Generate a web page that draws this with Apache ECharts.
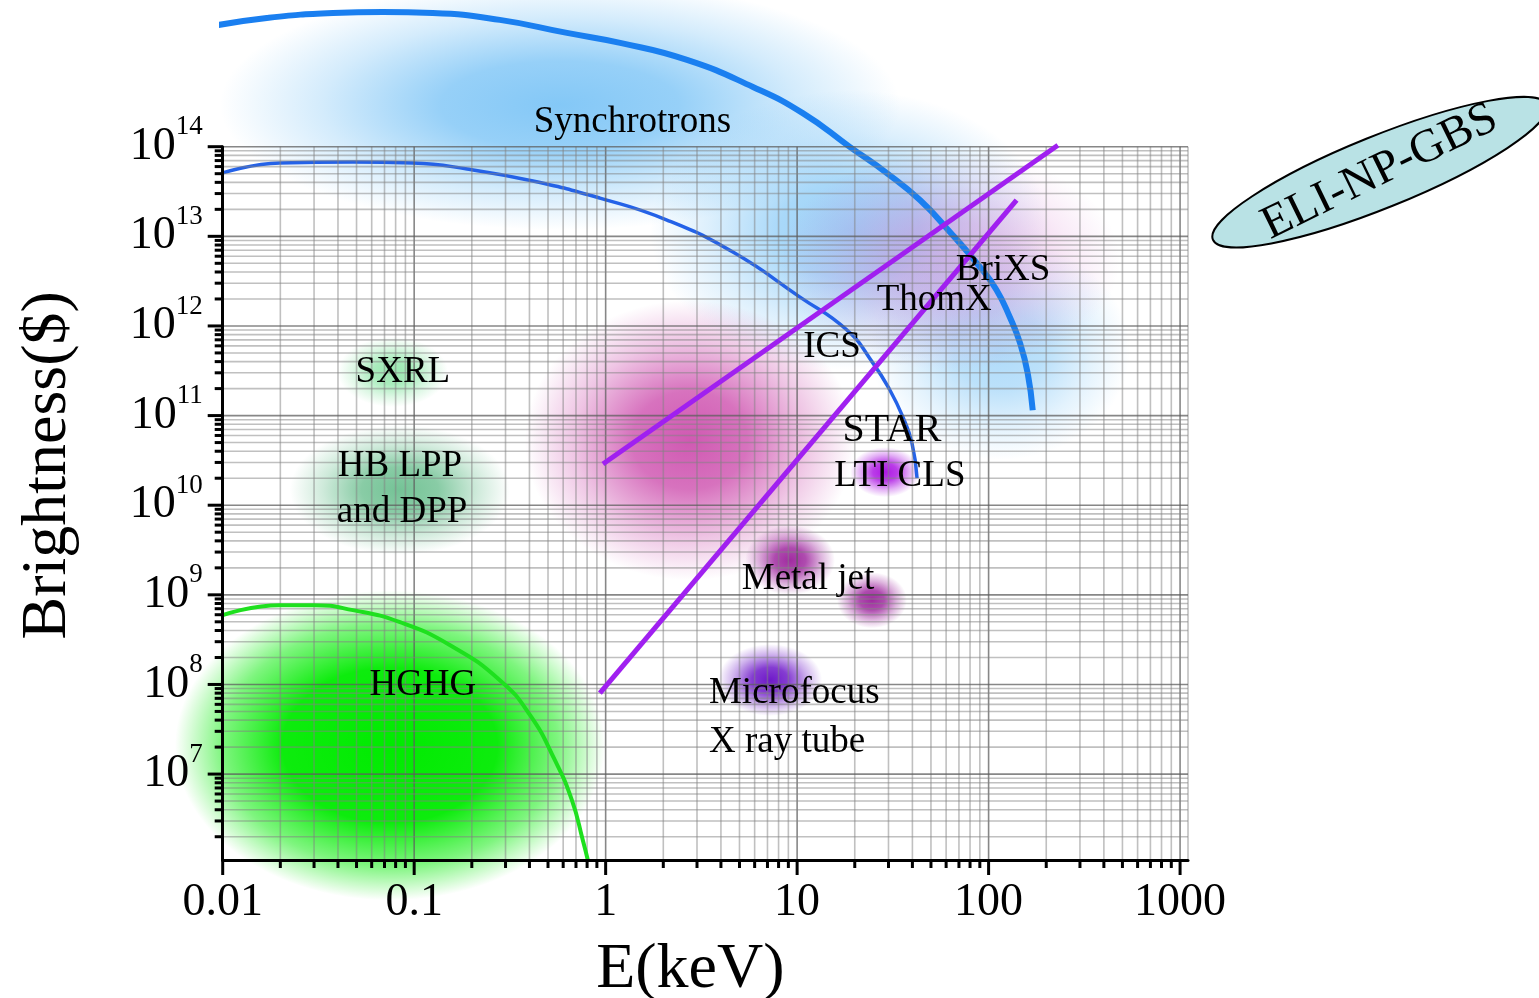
<!DOCTYPE html>
<html>
<head>
<meta charset="utf-8">
<script src="https://cdn.jsdelivr.net/npm/echarts@6/dist/echarts.min.js"></script>
<style>
  html, body { margin: 0; padding: 0; background: #fff; }
  #chart { width: 1539px; height: 998px; }
</style>
</head>
<body>
<div id="chart"></div>
<script>
const SERIF = "'Liberation Serif','Times New Roman','DejaVu Serif',serif";

// Axis ranges (log scales)
const X_MIN = 0.01, X_MAX = 1100, Y_MIN = 1.1e6, Y_MAX = 1e14;

// Tick labels
const xTickValues = [0.01, 0.1, 1, 10, 100, 1000];
const xTickLabels = ['0.01', '0.1', '1', '10', '100', '1000'];
const yTickExponents = [7, 8, 9, 10, 11, 12, 13, 14];

// Synchrotrons, outer envelope (keV, brightness)
const syncOuterE = [0.0089, 0.017, 0.0377, 0.0687, 0.125, 0.28, 0.628, 1.19, 2.66, 5.88, 10.7, 18.9, 29.4, 43.8, 62.8, 90.2, 110, 129, 146, 160, 170];
const syncOuterB = [2.22e15, 2.73e15, 3.10e15, 3.18e15, 3.10e15, 2.60e15, 1.86e15, 1.44e15, 9.3e14, 4.64e14, 2.37e14, 9.9e13, 5.08e13, 2.54e13, 1.12e13, 4.54e12, 2.52e12, 1.26e12, 6.44e11, 2.98e11, 1.15e11];

// Synchrotrons, inner curve
const syncInnerE = [0.01, 0.0199, 0.0479, 0.0987, 0.189, 0.417, 0.933, 2.09, 4.62, 10.35, 18.2, 24.9, 30.5, 35.7, 39.8, 42.3];
const syncInnerB = [5.1e13, 6.58e13, 6.75e13, 6.58e13, 5.64e13, 4.14e13, 2.67e13, 1.52e13, 6.68e12, 2.10e12, 9.0e11, 3.85e11, 1.93e11, 9.6e10, 4.93e10, 2.0e10];

// HGHG envelope
const hghgE = [0.01, 0.0199, 0.0297, 0.0479, 0.0843, 0.154, 0.281, 0.403, 0.543, 0.667, 0.760, 0.807];
const hghgB = [5.93e8, 7.67e8, 7.67e8, 6.75e8, 4.95e8, 2.74e8, 1.11e8, 4.54e7, 1.43e7, 5.1e6, 1.83e6, 1.1e6];

// ICS bounding lines
const icsUpperE = [0.968, 230];
const icsUpperB = [2.88e10, 1.04e14];
const icsLowerE = [0.933, 140];
const icsLowerB = [8.0e7, 2.54e13];

// Source regions (centre energy, centre brightness)
const regionNames = ['sync-a', 'sync-b', 'sync-c', 'ics-high', 'ics', 'sxrl', 'hblpp', 'hghg', 'jet-a', 'jet-b', 'star', 'microfocus'];
const regionE = [0.577, 18.9, 115, 62.8, 2.75, 0.0774, 0.0843, 0.0748, 9.18, 24.6, 28.8, 7.23];
const regionB = [2.92e14, 1.17e13, 5.4e11, 5.4e12, 5.3e10, 3.06e11, 1.48e10, 2.09e7, 2.44e9, 8.7e8, 2.34e10, 1.12e8];

// Text annotations
const labelTexts = ['Synchrotrons', 'SXRL', 'HB LPP', 'and DPP', 'HGHG', 'ICS', 'ThomX', 'BriXS', 'STAR', 'LTI CLS', 'Metal jet', 'Microfocus', 'X ray tube'];
const labelE = [1.38, 0.0873, 0.0843, 0.0865, 0.111, 15.2, 52.0, 119, 31.3, 34.4, 11.4, 9.66, 8.87];
const labelB = [1.99e14, 3.2e11, 2.88e10, 8.8e9, 1.03e8, 6.1e11, 2.05e12, 4.42e12, 7.2e10, 2.22e10, 1.55e9, 8.5e7, 2.39e7];

// ELI-NP-GBS badge
const eliE = [11040];
const eliB = [5.2e13];

// ---- appearance of the soft regions (px radii, rgb, peak alpha, gradient profile)
const regionLook = {
  'sync-a':     { rx: 340, ry: 125, rgb: '110,190,245', a: 0.85 },
  'sync-b':     { rx: 200, ry: 140, rgb: '110,190,245', a: 0.7 },
  'sync-c':     { rx: 130, ry: 110, rgb: '110,190,245', a: 0.55 },
  'ics-high':   { rx: 170, ry: 110, rgb: '215,120,205', a: 0.45 },
  'ics':        { rx: 165, ry: 140, rgb: '200,60,165',  a: 0.85 },
  'sxrl':       { rx: 55,  ry: 35,  rgb: '120,225,150', a: 0.75 },
  'hblpp':      { rx: 110, ry: 65,  rgb: '70,175,115',  a: 0.75 },
  'hghg':       { rx: 215, ry: 155, rgb: '0,235,0',     a: 1.0, flat: true },
  'jet-a':      { rx: 45,  ry: 35,  rgb: '150,20,150',  a: 0.9 },
  'jet-b':      { rx: 35,  ry: 28,  rgb: '150,20,150',  a: 0.9 },
  'star':       { rx: 35,  ry: 25,  rgb: '165,0,225',   a: 0.9 },
  'microfocus': { rx: 52,  ry: 36,  rgb: '95,0,195',    a: 0.9 }
};
const labelFontSize = { 'STAR': 40 };
const LABEL_DY = 2;

const zip = (a, b) => a.map((v, i) => [v, b[i]]);

// grid lines and ticks of both log axes
const gridLines = [];
const ticks = [];
for (let d = -2; d <= 3; d++) {
  const major = Math.pow(10, d);
  gridLines.push({ dir: 'v', v: major, major: true });
  ticks.push({ axis: 'x', v: major, major: true });
  if (d < 3) {
    for (let k = 2; k <= 9; k++) {
      gridLines.push({ dir: 'v', v: k * major, major: false });
      ticks.push({ axis: 'x', v: k * major, major: false });
    }
  }
}
gridLines.push({ dir: 'v', v: X_MAX, major: false });
for (let d = 6; d <= 14; d++) {
  const major = Math.pow(10, d);
  if (major >= Y_MIN) {
    gridLines.push({ dir: 'h', v: major, major: true });
    ticks.push({ axis: 'y', v: major, major: true });
  }
  if (d < 14) {
    for (let k = 2; k <= 9; k++) {
      const v = k * major;
      if (v >= Y_MIN) {
        gridLines.push({ dir: 'h', v: v, major: false });
        ticks.push({ axis: 'y', v: v, major: false });
      }
    }
  }
}

function isPow10(v) {
  const l = Math.log10(v);
  return Math.abs(l - Math.round(l)) < 1e-6;
}

const chart = echarts.init(document.getElementById('chart'), null, { renderer: 'canvas' });

chart.setOption({
  animation: false,
  backgroundColor: '#fff',
  grid: { left: 222.7, right: 351, top: 146.7, bottom: 138, containLabel: false, outerBoundsMode: 'none' },
  xAxis: {
    type: 'log', logBase: 10, min: X_MIN, max: X_MAX, z: 10,
    axisLine: { show: true, lineStyle: { color: '#000', width: 3 } },
    axisTick: { show: false },
    splitLine: { show: false },
    minorTick: { show: false },
    axisLabel: {
      interval: 0, margin: 20, color: '#000', fontFamily: SERIF, fontSize: 46,
      formatter: v => {
        if (!isPow10(v)) return '';
        const e = Math.round(Math.log10(v));
        const i = xTickValues.findIndex(t => Math.round(Math.log10(t)) === e);
        return i >= 0 ? xTickLabels[i] : '';
      }
    },
    name: 'E(keV)', nameLocation: 'middle', nameGap: 78,
    nameTextStyle: { color: '#000', fontFamily: SERIF, fontSize: 64, padding: [0, 30, 0, 0] }
  },
  yAxis: {
    type: 'log', logBase: 10, min: Y_MIN, max: Y_MAX, z: 10,
    axisLine: { show: true, lineStyle: { color: '#000', width: 3 } },
    axisTick: { show: false },
    splitLine: { show: false },
    minorTick: { show: false },
    axisLabel: {
      interval: 0, margin: 20, color: '#000',
      formatter: v => {
        if (!isPow10(v)) return '';
        const e = Math.round(Math.log10(v));
        if (yTickExponents.indexOf(e) < 0) return '';
        return '{b|10}{s|' + e + '}';
      },
      rich: {
        b: { fontFamily: SERIF, fontSize: 46, lineHeight: 66, verticalAlign: 'middle', color: '#000' },
        s: { fontFamily: SERIF, fontSize: 27, lineHeight: 28, verticalAlign: 'top', color: '#000' }
      }
    },
    name: 'Brightness($)', nameLocation: 'middle', nameGap: 143,
    nameTextStyle: { color: '#000', fontFamily: SERIF, fontSize: 64, padding: [0, 0, 0, 76] }
  },
  series: [
    {
      // soft coloured regions
      type: 'custom', z: 1, silent: true, clip: false,
      data: zip(regionE, regionB),
      renderItem: (params, api) => {
        const p = api.coord([api.value(0), api.value(1)]);
        const s = regionLook[regionNames[params.dataIndex]];
        const c = s.rgb;
        const stops = s.flat
          ? [
              { offset: 0, color: `rgba(${c},${s.a})` },
              { offset: 0.5, color: `rgba(${c},${s.a * 0.95})` },
              { offset: 0.78, color: `rgba(${c},${s.a * 0.5})` },
              { offset: 1, color: `rgba(${c},0)` }
            ]
          : [
              { offset: 0, color: `rgba(${c},${s.a})` },
              { offset: 0.35, color: `rgba(${c},${s.a * 0.85})` },
              { offset: 0.7, color: `rgba(${c},${s.a * 0.35})` },
              { offset: 1, color: `rgba(${c},0)` }
            ];
        return {
          type: 'circle', x: p[0], y: p[1], scaleX: s.rx / s.ry, scaleY: 1,
          shape: { cx: 0, cy: 0, r: s.ry },
          style: { fill: { type: 'radial', x: 0.5, y: 0.5, r: 0.5, colorStops: stops } }
        };
      }
    },
    {
      name: 'Synchrotrons (outer)', type: 'line', z: 2, silent: true, clip: false,
      data: zip(syncOuterE, syncOuterB), smooth: true, symbol: 'none',
      lineStyle: { color: '#1a7ff0', width: 6, cap: 'butt' }
    },
    {
      name: 'Synchrotrons (inner)', type: 'line', z: 2, silent: true, clip: false,
      data: zip(syncInnerE, syncInnerB), smooth: true, symbol: 'none',
      lineStyle: { color: '#2462e8', width: 3.5 }
    },
    {
      // grid lines
      type: 'custom', z: 3, silent: true, clip: false,
      data: gridLines.map(g => g.dir === 'v' ? [g.v, Y_MAX] : [X_MAX, g.v]),
      renderItem: (params, api) => {
        const g = gridLines[params.dataIndex];
        let a, b;
        if (g.dir === 'v') { a = api.coord([g.v, Y_MIN]); b = api.coord([g.v, Y_MAX]); }
        else { a = api.coord([X_MIN, g.v]); b = api.coord([X_MAX, g.v]); }
        return {
          type: 'line',
          shape: { x1: a[0], y1: a[1], x2: b[0], y2: b[1] },
          style: { stroke: g.major ? 'rgba(95,95,95,0.75)' : 'rgba(130,130,130,0.5)', lineWidth: 1.6 }
        };
      }
    },
    {
      name: 'HGHG', type: 'line', z: 4, silent: true, clip: false,
      data: zip(hghgE, hghgB), smooth: true, symbol: 'none',
      lineStyle: { color: '#1ee01e', width: 4 }
    },
    {
      name: 'ICS upper', type: 'line', z: 4, silent: true, clip: false,
      data: zip(icsUpperE, icsUpperB), symbol: 'none',
      lineStyle: { color: '#a020f0', width: 5 }
    },
    {
      name: 'ICS lower', type: 'line', z: 4, silent: true, clip: false,
      data: zip(icsLowerE, icsLowerB), symbol: 'none',
      lineStyle: { color: '#a020f0', width: 5 }
    },
    {
      // axis ticks (major and minor)
      type: 'custom', z: 5, silent: true, clip: false,
      data: ticks.map(t => t.axis === 'x' ? [t.v, Y_MIN] : [X_MIN, t.v]),
      renderItem: (params, api) => {
        const t = ticks[params.dataIndex];
        const p = api.coord([api.value(0), api.value(1)]);
        const len = t.major ? 15 : 8;
        const shape = t.axis === 'x'
          ? { x1: p[0], y1: p[1], x2: p[0], y2: p[1] + len }
          : { x1: p[0] - len, y1: p[1], x2: p[0], y2: p[1] };
        return { type: 'line', shape: shape, style: { stroke: '#000', lineWidth: 3 } };
      }
    },
    {
      // region names
      type: 'custom', z: 6, silent: true, clip: false,
      data: zip(labelE, labelB),
      renderItem: (params, api) => {
        const p = api.coord([api.value(0), api.value(1)]);
        const text = labelTexts[params.dataIndex];
        return {
          type: 'text', x: p[0], y: p[1] + LABEL_DY,
          style: {
            text: text, fill: '#000', fontFamily: SERIF,
            fontSize: labelFontSize[text] || 37,
            align: 'center', verticalAlign: 'middle'
          }
        };
      }
    },
    {
      // ELI-NP-GBS badge
      type: 'custom', z: 6, silent: true, clip: false,
      data: zip(eliE, eliB),
      renderItem: (params, api) => {
        const p = api.coord([api.value(0), api.value(1)]);
        return {
          type: 'group', x: p[0], y: p[1], rotation: 22 * Math.PI / 180,
          children: [
            {
              type: 'ellipse', shape: { cx: 0, cy: 0, rx: 180, ry: 36 },
              style: { fill: '#b9e2e5', stroke: '#000', lineWidth: 2 }
            },
            {
              type: 'text', x: 0, y: 0, rotation: 4 * Math.PI / 180,
              style: {
                text: 'ELI-NP-GBS', fill: '#000', fontFamily: SERIF, fontSize: 47,
                align: 'center', verticalAlign: 'middle'
              }
            }
          ]
        };
      }
    }
  ]
});
</script>
</body>
</html>
